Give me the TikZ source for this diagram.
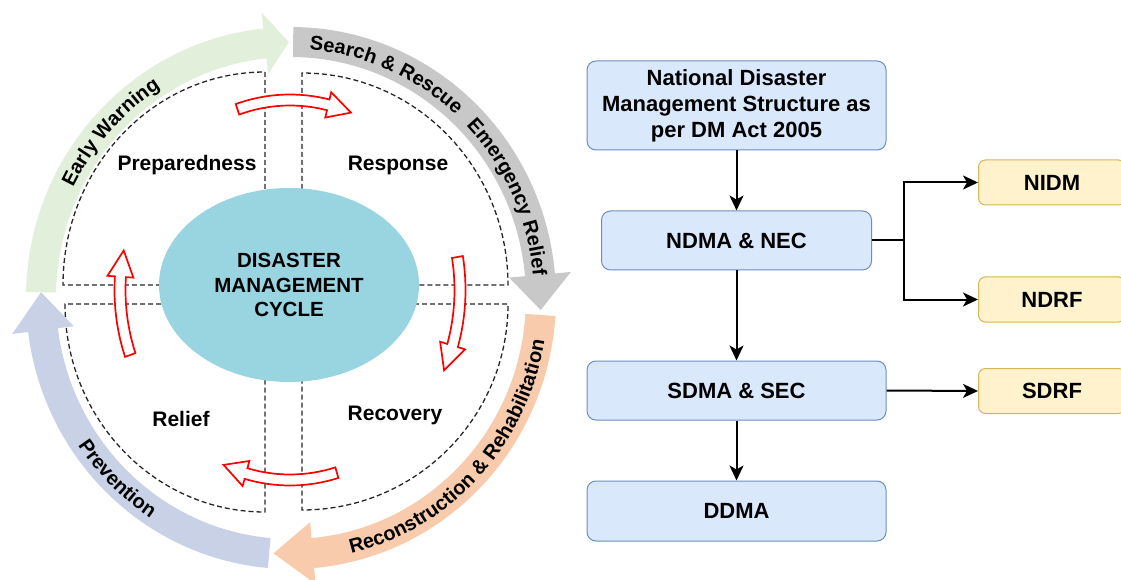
\documentclass[tikz,border=0pt]{standalone}
\usepackage{fontspec}
\setmainfont{Liberation Sans}
\usepackage{tikz}
\usetikzlibrary{positioning,arrows.meta,shapes.geometric,decorations.text}
\usepackage{xcolor}
\definecolor{boxblue}{RGB}{218,232,252}
\definecolor{boxline}{RGB}{108,142,191}
\definecolor{boxyellow}{RGB}{255,242,204}
\definecolor{yellowline}{RGB}{214,182,86}
\definecolor{warngreen}{RGB}{226,239,218}
\definecolor{rescuegray}{RGB}{200,200,200}
\definecolor{rehaborange}{RGB}{248,203,173}
\definecolor{prevblue}{RGB}{201,209,231}
\definecolor{cyclecyan}{RGB}{153,212,225}

\newcommand{\arcfont}{\bfseries\fontsize{20}{24}\selectfont}
% band arrow round the cycle: colour, start, head base, tip
\newcommand{\bandarrow}[4]{%
  \fill[#1] (#2:265 and 271) arc[start angle=#2,end angle=#3,x radius=265,y radius=271]
    -- (#3:281 and 287) -- (#4:250 and 256) -- (#3:219 and 225) -- (#3:235 and 241)
    arc[start angle=#3,end angle=#2,x radius=235,y radius=241] -- cycle;}
% hollow red arrow inside the cycle: start, head base, tip
\newcommand{\hollowarrow}[3]{%
  \filldraw[red, fill=white, line width=1.7pt, line join=miter]
    (#1:175.5 and 195.5) arc[start angle=#1,end angle=#2,x radius=175.5,y radius=195.5]
    -- (#2:183 and 203) -- (#3:170 and 190) -- (#2:157 and 177) -- (#2:164.5 and 184.5)
    arc[start angle=#2,end angle=#1,x radius=164.5,y radius=184.5] -- cycle;}

\tikzset{
  orgbox/.style={draw=boxline, fill=boxblue, rounded corners=9pt, line width=1pt,
    align=center, font=\bfseries\fontsize{22}{26}\selectfont,
    minimum width=299pt, minimum height=59pt},
  subbox/.style={draw=yellowline, fill=boxyellow, rounded corners=7pt, line width=1pt,
    font=\bfseries\fontsize{22}{26}\selectfont, minimum width=147pt, minimum height=45pt},
  flow/.style={-{Stealth[length=15pt,width=14pt,inset=4pt]}, line width=2pt},
  quadrant/.style={dash pattern=on 5pt off 3pt, line width=1.3pt, black!85},
  phase/.style={font=\bfseries\fontsize{21}{24}\selectfont},
}

\begin{document}
\begin{tikzpicture}[x=1pt,y=1pt]
  \useasboundingbox (0,0) rectangle (1121,579);
  \fill[white] (0,0) rectangle (1121,579);

  % dashed quadrants
  \draw[quadrant] (265,294) -- (265,507) arc[start angle=90,end angle=180,x radius=202,y radius=213] -- cycle;
  \draw[quadrant] (302,294) -- (302,506) arc[start angle=90,end angle=0,x radius=206,y radius=212] -- cycle;
  \draw[quadrant] (302,275) -- (508,275) arc[start angle=0,end angle=-90,x radius=206,y radius=206] -- cycle;
  \draw[quadrant] (265,275) -- (65,275) arc[start angle=180,end angle=270,x radius=200,y radius=208] -- cycle;

  \node[ellipse, fill=cyclecyan, minimum width=260pt, minimum height=194pt, align=center,
    font=\bfseries\fontsize{20.5}{24.5}\selectfont] (dmc) at (289,294) {DISASTER\\MANAGEMENT\\CYCLE};

  \begin{scope}[shift={(290,289)}]
    \hollowarrow{108}{77}{69}
    \hollowarrow{10}{-17}{-25}
    \hollowarrow{-74}{-105}{-113}
    \hollowarrow{-160}{-184}{-192}
  \end{scope}

  \begin{scope}[shift={(291,281)}]
    \bandarrow{warngreen}{178.7}{96}{90.5}
    \bandarrow{rescuegray}{89.5}{5.2}{-2.7}
    \bandarrow{rehaborange}{-3.8}{-85}{-94}
    \bandarrow{prevblue}{-95}{-172.8}{-181.3}
    \path[decorate, decoration={text along path, text align=center,
      text={|\arcfont|Early Warning}}] (163:243 and 249) arc[start angle=163,end angle=113,x radius=243,y radius=249];
    \path[decorate, decoration={text along path, text align=center,
      text={|\arcfont|Search {\&} Rescue}}] (90:243 and 249) arc[start angle=90,end angle=43,x radius=243,y radius=249];
    \path[decorate, decoration={text along path, text align=center,
      text={|\arcfont|Emergency Relief}}] (48:243 and 249) arc[start angle=48,end angle=1,x radius=243,y radius=249];
    \path[decorate, decoration={text along path, text align=center,
      text={|\arcfont|Reconstruction {\&} Rehabilitation}}] (-83:257 and 263) arc[start angle=-83,end angle=-3,x radius=257,y radius=263];
    \path[decorate, decoration={text along path, text align=center,
      text={|\arcfont|Prevention}}] (-160:257 and 263) arc[start angle=-160,end angle=-109,x radius=257,y radius=263];
  \end{scope}

  \node[phase] (prep) at (187,414) {Preparedness};
  \node[phase] (resp) at (398,414) {Response};
  \node[phase] (relief) at (181,160) {Relief};
  \node[phase] (recov) at (395,164) {Recovery};

  % structure
  \node[orgbox, minimum height=89pt] (ndms) at (736.5,473.5)
    {National Disaster\\Management Structure as\\per DM Act 2005};
  \node[orgbox, minimum width=270pt] (ndma) at (736.5,338.5) {NDMA \& NEC};
  \node[orgbox] (sdma) at (736.5,188.5) {SDMA \& SEC};
  \node[orgbox, minimum height=60pt] (ddma) at (736.5,68) {DDMA};
  \node[subbox] (nidm) at (1052,396.5) {NIDM};
  \node[subbox] (ndrf) at (1052,279.5) {NDRF};
  \node[subbox] (sdrf) at (1052,188) {SDRF};

  \draw[flow] (ndms) -- (ndma);
  \draw[flow] (ndma) -- (sdma);
  \draw[flow] (sdma) -- (ddma);
  \draw[line width=2pt] (ndma.east) -- ++(32,0) coordinate (fork);
  \draw[flow] (fork) |- (nidm.west);
  \draw[flow] (fork) |- (ndrf.west);
  \draw[flow] (sdma.east) -- (sdrf.west);
\end{tikzpicture}
\end{document}
